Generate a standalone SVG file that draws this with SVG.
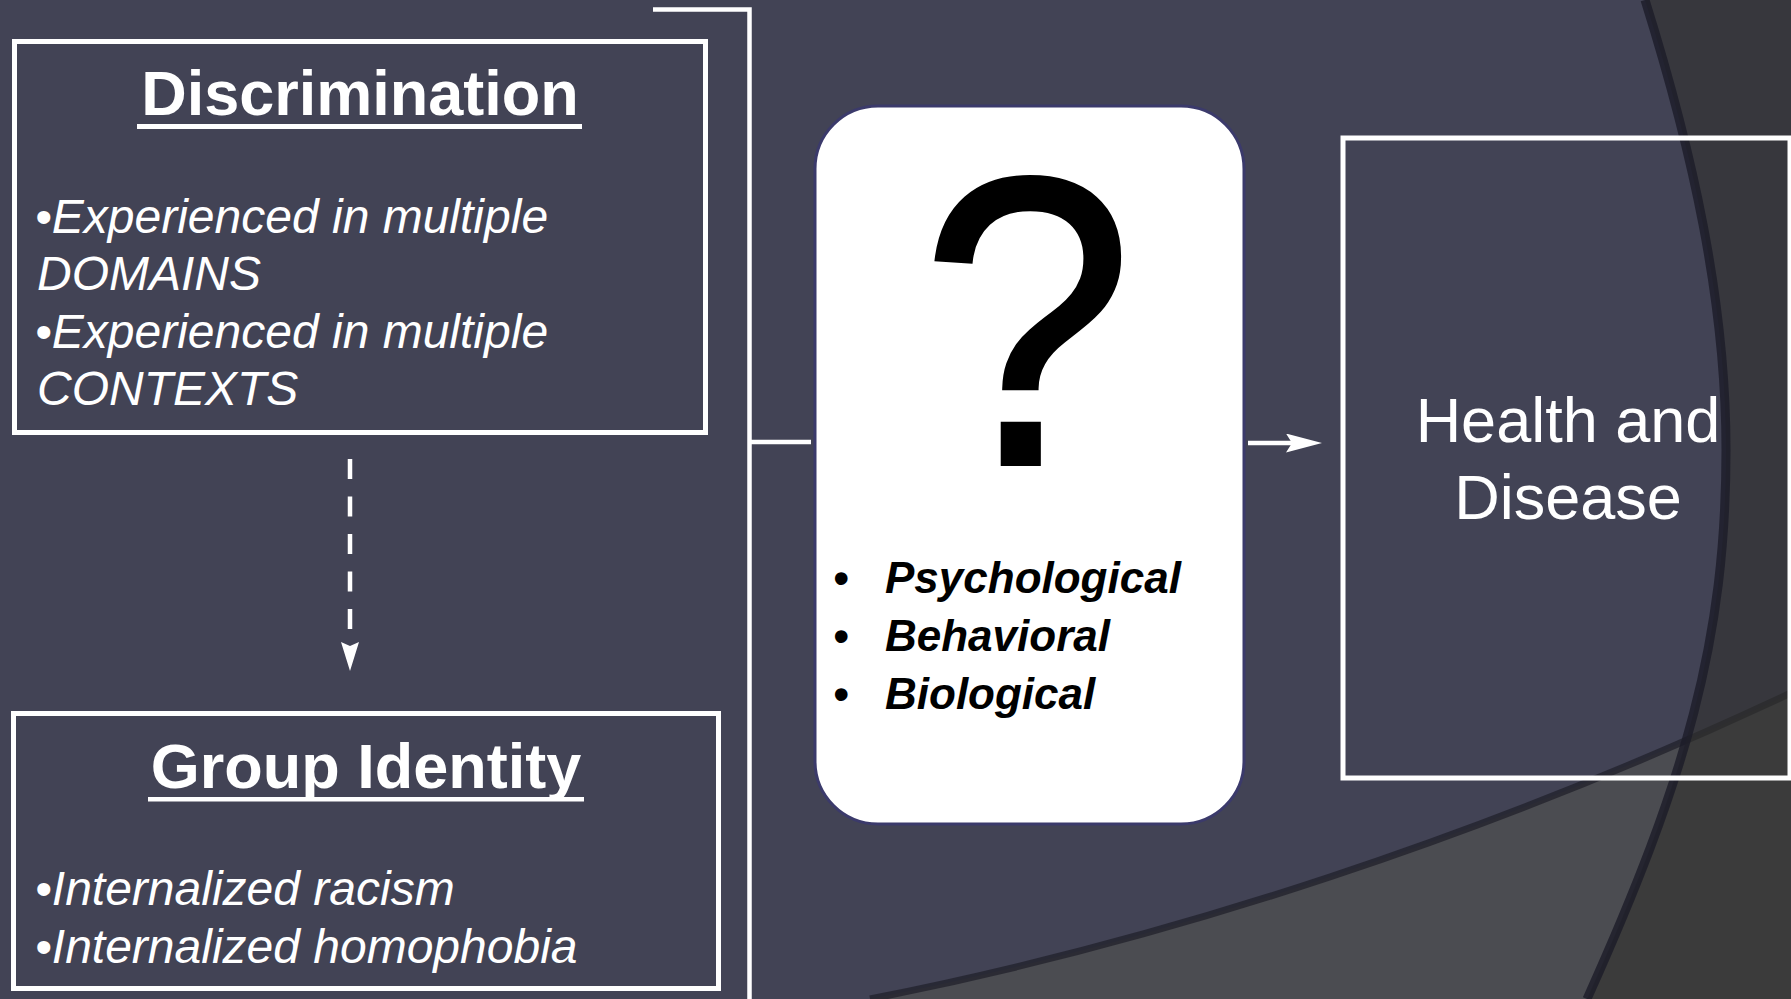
<svg xmlns="http://www.w3.org/2000/svg" width="1791" height="999" viewBox="0 0 1791 999">
<defs>
<style>
.box{fill:none;stroke:#ffffff;stroke-width:5}
.conn{fill:none;stroke:#ffffff;stroke-width:4.5}
.title{font-family:"Liberation Sans",Arial,sans-serif;font-weight:bold;font-size:63px;fill:#ffffff;text-anchor:middle}
.item{font-family:"Liberation Sans",Arial,sans-serif;font-style:italic;font-size:48px;fill:#ffffff}
.mech{font-family:"Liberation Sans",Arial,sans-serif;font-style:italic;font-weight:bold;font-size:44px;fill:#000000}
.outcome{font-family:"Liberation Sans",Arial,sans-serif;font-size:63px;fill:#ffffff;text-anchor:middle}
</style>
<marker id="headDown" viewBox="0 0 29 18" refX="4" refY="9" markerWidth="29" markerHeight="18" markerUnits="userSpaceOnUse" orient="auto">
<path d="M0,0 L29,9 L0,18 L4,9 Z" fill="#ffffff"/>
</marker>
<marker id="headRight" viewBox="0 0 36 19" refX="6" refY="9.5" markerWidth="36" markerHeight="19" markerUnits="userSpaceOnUse" orient="auto">
<path d="M0,0 L36,9.5 L0,19 L6,9.5 Z" fill="#ffffff"/>
</marker>
</defs>
<g id="background">
<rect x="0" y="0" width="1791" height="999" fill="#424355"/>
<path d="M870,999 C1170,940 1491,834 1791,693 L1791,999 Z" fill="#4b4c51"/>
<path d="M870,999 C1170,940 1491,834 1791,693" fill="none" stroke="#1e1e28" stroke-opacity="0.7" stroke-width="7"/>
<path d="M1645,0 C1692,150 1726,300 1726,450 C1726,640 1686,779 1587,999 L1791,999 L1791,0 Z" fill="#30312d" fill-opacity="0.6"/>
<path d="M1645,0 C1692,150 1726,300 1726,450 C1726,640 1686,779 1587,999" fill="none" stroke="#1c1c28" stroke-opacity="0.8" stroke-width="9"/>
</g>
<g id="connectors">
<path class="conn" d="M653,9.5 H749.5 V999"/>
<path class="conn" d="M749.5,442 H811"/>
<path class="conn" d="M350,459 V646" stroke-dasharray="20 17.5" marker-end="url(#headDown)"/>
<path class="conn" d="M1248,443 H1292" marker-end="url(#headRight)"/>
</g>
<g id="discrimination">
<rect class="box" x="14.5" y="41.5" width="691" height="391"/>
<text class="title" x="360" y="115">Discrimination</text>
<rect x="137" y="124" width="445" height="5" fill="#ffffff"/>
<text class="item" x="35" y="233">•Experienced in multiple</text>
<text class="item" x="37" y="290">DOMAINS</text>
<text class="item" x="35" y="348">•Experienced in multiple</text>
<text class="item" x="37" y="405">CONTEXTS</text>
</g>
<g id="group-identity">
<rect class="box" x="13.5" y="713.5" width="705" height="275"/>
<text class="title" x="366" y="788">Group Identity</text>
<rect x="148" y="797" width="436" height="4.5" fill="#ffffff"/>
<text class="item" x="35" y="905">•Internalized racism</text>
<text class="item" x="35" y="963">•Internalized homophobia</text>
</g>
<g id="mechanisms">
<rect x="815" y="106" width="429" height="718" rx="63" ry="63" fill="#ffffff" stroke="#3b3a6b" stroke-width="3"/>
<text x="1027" y="464" transform="translate(1029 0) scale(0.93 1) translate(-1029 0)" font-family="Liberation Sans, Arial, sans-serif" font-size="411" fill="#000000" stroke="#000000" stroke-width="4" text-anchor="middle">?</text>
<text class="mech" x="833" y="593">•</text>
<text class="mech" x="885" y="593">Psychological</text>
<text class="mech" x="833" y="651">•</text>
<text class="mech" x="885" y="651">Behavioral</text>
<text class="mech" x="833" y="709">•</text>
<text class="mech" x="885" y="709">Biological</text>
</g>
<g id="health">
<rect class="box" x="1343" y="138" width="447" height="640"/>
<text class="outcome" x="1568" y="442">Health and</text>
<text class="outcome" x="1568" y="519">Disease</text>
</g>
</svg>
